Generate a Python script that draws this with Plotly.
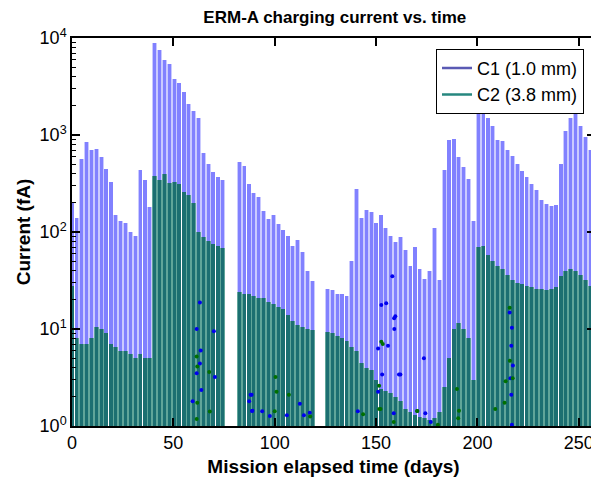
import plotly.graph_objects as go

# ---------------- data ----------------
PERIOD = 2.4                      # spacing of charging cycles (days)
seg_starts = [0.0, 82.5, 126.0]   # start day of each data segment

c1_seg_a = [200, 140, 560, 850, 700, 720, 600, 450, 330, 150, 130, 125, 100, 90, 440, 340,
            180, 8800, 7500, 5900, 5400, 3800, 3400, 2800, 2100, 1750, 1500, 650, 500, 420, 370, 340]
c2_seg_a = [28, 8, 7, 7, 8, 10.5, 10, 9, 7, 6.5, 6, 6, 5.5, 5, 5.5, 5,
            5, 380, 340, 400, 320, 330, 310, 260, 240, 200, 100, 88, 80, 75, 72, 68]

c1_seg_b = [530, 480, 310, 255, 230, 165, 135, 150, 120, 105, 90, 72, 82, 62, 40, 31]
c2_seg_b = [24, 23, 23, 22, 21, 21, 19, 18, 17, 16, 14, 12, 11, 10.5, 10, 9.8]

c1_seg_c = [26, 25, 23, 23, 22, 50, 280, 140, 170, 160, 125, 150, 110, 90, 78, 88, 66, 45, 70,
            42, 33, 40, 110, 32, 440, 880, 920, 600, 470, 350, 130, 2560, 2200, 1500, 1250,
            880, 870, 700, 610, 500, 430, 370, 310, 270, 215, 195, 185, 190, 500, 1100, 1500,
            1650, 1250, 950, 700]
c2_seg_c = [9.4, 9, 8.5, 8, 7.5, 6.5, 6, 4.5, 4, 3.8, 3, 2.4, 2.3, 2.2, 2, 1.8, 1.5, 1.4, 1.3,
            1.25, 1.2, 1.15, 1.2, 1.4, 2.5, 5, 10, 11.5, 10, 8, 3, 70, 72, 58, 50,
            45, 42, 36, 32, 30, 29, 28, 27, 26, 26, 25, 26, 27, 35, 40, 42,
            40, 36, 32, 28]

blue_dot_days = [63.1, 61.5, 70, 63.5, 63.1, 61.5, 70.5, 63.8, 59.5, 88.6, 87.4, 88.8, 88.1, 89,
                 93.8, 97.6, 112.4, 114.4, 117.3, 106, 141, 151, 152.6, 155, 158, 158.9, 159.5,
                 159, 155.9, 153, 151, 161.3, 173.6, 158.7, 162, 174.3, 177, 215.9, 217, 216.7,
                 217.5, 216.3, 216.7, 217]
blue_dot_vals = [18.8, 10, 9.5, 6, 4.4, 3.5, 3.2, 2.35, 1.8, 2.1, 1.8, 1.43, 2.1, 1.44,
                 1.42, 1.27, 1.7, 1.29, 1.37, 1.29, 1.42, 6.3, 17.7, 18.4, 35, 12.9, 13.5,
                 10, 6.7, 3.4, 2.25, 3.4, 5, 1.35, 3.4, 1.35, 1.1, 14.8, 10.3, 6.7,
                 4.2, 3.1, 2.1, 1.03]
green_dot_days = [61.5, 61.8, 67.7, 61.8, 68, 61.5, 100.4, 100.9, 107, 100, 117.5, 143.6, 152.6,
                  153.3, 151.5, 151.6, 152.2, 158.7, 170.4, 215.9, 216, 213.9, 217.4, 213.4,
                  208.8, 189.9, 190.9, 190.5, 170.2, 180.5]
green_dot_vals = [5.2, 4.1, 3.6, 1.74, 1.41, 1.18, 3.2, 2.25, 2.1, 1.42, 1.25, 1.32, 7.4,
                  7.0, 2.6, 1.5, 1.5, 1.1, 1.43, 16.6, 4.7, 2.9, 3.1, 1.74,
                  1.5, 2.4, 1.44, 1.2, 1.43, 1.03]

x_ticks = [0, 50, 100, 150, 200, 250]
y_ticks = [1, 10, 100, 1000, 10000]
y_ticktext = ["10<sup>0</sup>", "10<sup>1</sup>", "10<sup>2</sup>", "10<sup>3</sup>", "10<sup>4</sup>"]
series_names = ["C1 (1.0 mm)", "C2 (3.8 mm)"]

# ---------------- assemble ----------------
c1_segs = [c1_seg_a, c1_seg_b, c1_seg_c]
c2_segs = [c2_seg_a, c2_seg_b, c2_seg_c]
days, c1, c2 = [], [], []
for s, a, b in zip(seg_starts, c1_segs, c2_segs):
    for i, (va, vb) in enumerate(zip(a, b)):
        days.append(s + i * PERIOD)
        c1.append(va)
        c2.append(vb)

FONT = "Liberation Sans, Arial, Helvetica, sans-serif"

fig = go.Figure()
# C1 layers
fig.add_trace(go.Bar(x=days, y=c1, width=PERIOD * 0.97, marker=dict(color="rgba(80,80,255,0.30)", line=dict(width=0)),
                     showlegend=False, hoverinfo="skip"))
fig.add_trace(go.Bar(x=days, y=c1, width=PERIOD * 0.66, marker=dict(color="rgba(70,70,255,0.55)", line=dict(width=0)),
                     showlegend=False, hoverinfo="skip"))
# C2 layers
fig.add_trace(go.Bar(x=days, y=c2, width=PERIOD * 0.97, marker=dict(color="rgba(10,135,70,0.55)", line=dict(width=0)),
                     showlegend=False, hoverinfo="skip"))
fig.add_trace(go.Bar(x=days, y=c2, width=PERIOD * 0.66, marker=dict(color="rgba(0,95,80,0.55)", line=dict(width=0)),
                     showlegend=False, hoverinfo="skip"))
# scattered points
fig.add_trace(go.Scatter(x=blue_dot_days, y=blue_dot_vals, mode="markers",
                         marker=dict(color="#0000ee", size=4), showlegend=False, hoverinfo="skip"))
fig.add_trace(go.Scatter(x=green_dot_days, y=green_dot_vals, mode="markers",
                         marker=dict(color="#007000", size=4), showlegend=False, hoverinfo="skip"))
# legend entries
fig.add_trace(go.Scatter(x=[None], y=[None], mode="lines", name=series_names[0],
                         line=dict(color="#5a5ab4", width=2.5)))
fig.add_trace(go.Scatter(x=[None], y=[None], mode="lines", name=series_names[1],
                         line=dict(color="#26877f", width=2.5)))

# the page body adds an 8px offset, so the figure is sized 591x471
fig.update_layout(
    width=591, height=471,
    margin=dict(l=64, r=4, t=30, b=53, autoexpand=False),
    paper_bgcolor="white", plot_bgcolor="white",
    barmode="overlay", bargap=0,
    font=dict(family=FONT, color="black", size=18),
    title=dict(text="<b>ERM-A charging current vs. time</b>", x=0.553, xanchor="center",
               y=0.981, yanchor="middle", yref="container", font=dict(size=17, family=FONT)),
    legend=dict(x=0.696, y=0.972, xanchor="left", yanchor="top", bgcolor="white",
                bordercolor="black", borderwidth=1, font=dict(size=18, family=FONT),
                tracegroupgap=0, itemwidth=30),
    xaxis=dict(range=[0, 258], tickvals=x_ticks, ticks="inside", ticklen=8, tickwidth=1.5,
               tickcolor="black", showline=True, linecolor="black", linewidth=1.5, mirror="ticks",
               showgrid=False, zeroline=False, tickfont=dict(size=18), automargin=False,
               title=dict(text="<b>Mission elapsed time (days)</b>", font=dict(size=19), standoff=7)),
    yaxis=dict(type="log", range=[0, 4], tickvals=y_ticks, ticktext=y_ticktext, ticks="inside",
               ticklen=8, tickwidth=1.5, tickcolor="black", showline=True, linecolor="black",
               linewidth=1.5, mirror="ticks", showgrid=False, zeroline=False, tickfont=dict(size=18),
               automargin=False,
               minor=dict(ticks="inside", ticklen=4, tickwidth=1, tickcolor="black",
                          tickvals=[m * 10 ** k for k in range(4) for m in range(2, 10)]),
               title=dict(text="<b>Current (fA)</b>", font=dict(size=19), standoff=4)),
)

fig.write_html("out.html")
